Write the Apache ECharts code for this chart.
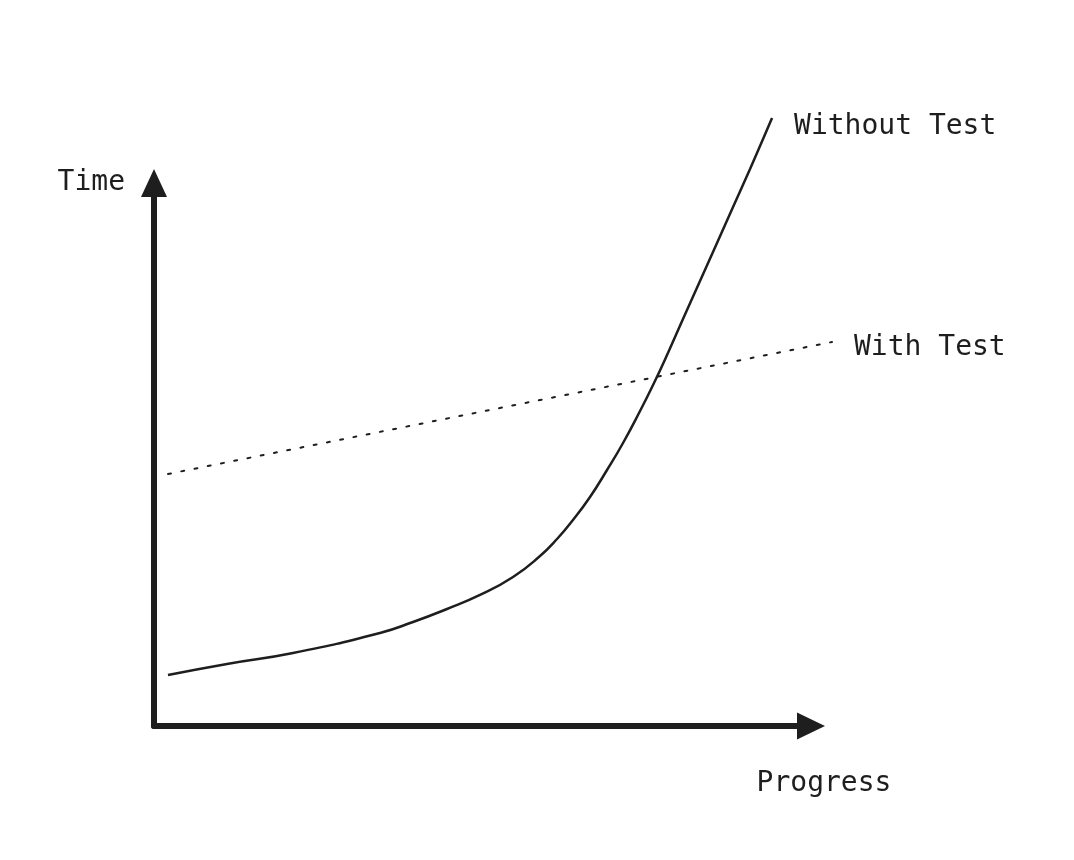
<!DOCTYPE html>
<html lang="en">
<head>
    <meta charset="UTF-8">
    <title>Time vs Progress</title>
    <script src="https://cdn.jsdelivr.net/npm/echarts@6/dist/echarts.min.js"></script>
    <style>
        html, body { margin: 0; padding: 0; background: #fff; }
        #chart { width: 1074px; height: 860px; }
    </style>
</head>
<body>
<div id="chart"></div>
<script>
    // values, progress / time in 0..100 units of the drawn axes
    var withoutTestX = [2.13, 11.12, 21.17, 34.41, 39.44, 44.62, 49.64, 54.67, 58.78, 61.37, 63.80, 66.39,
        68.98, 71.42, 74.01, 75.99, 78.12, 80.55, 83.14, 85.73, 88.17, 90.76, 92.74, 94.11];
    var withoutTestY = [9.39, 11.42, 13.44, 17.13, 19.15, 21.55, 24.13, 27.44, 31.31, 34.44, 37.94, 42.17,
        47.15, 52.12, 58.01, 62.80, 68.32, 74.95, 81.95, 88.95, 95.58, 102.58, 108.10, 111.97];
    var withTestX = [2.13, 103.24];
    var withTestY = [46.41, 70.72];
    var seriesNames = ['Without Test', 'With Test'];
    var axisNames = ['Progress', 'Time'];

    var ink = '#1e1e1e';
    var font = 'DejaVu Sans Mono';

    function pairs(xs, ys) {
        return xs.map(function (x, i) { return [x, ys[i]]; });
    }

    var hiddenAxis = {
        show: false, type: 'value', min: 0,
        splitLine: {show: false}
    };

    var chart = echarts.init(document.getElementById('chart'));
    chart.setOption({
        animation: false,
        grid: [
            // data grid: same scale, but wide enough for the dotted line's end
            {left: 154, top: 183, width: 683, height: 543},
            // drawn axes
            {left: 154, top: 183, width: 657, height: 543}
        ],
        xAxis: [
            Object.assign({}, hiddenAxis, {gridIndex: 0, max: 104}),
            {
                gridIndex: 1,
                type: 'value', min: 0, max: 100,
                name: axisNames[0],
                nameLocation: 'end',
                nameGap: 13,
                nameTextStyle: {
                    fontFamily: font, fontSize: 28, color: ink,
                    align: 'center', verticalAlign: 'top', padding: [44, 0, 0, 0]
                },
                axisLine: {
                    lineStyle: {color: ink, width: 6, cap: 'round'},
                    symbol: ['none', 'triangle'],
                    symbolSize: [27, 28]
                },
                axisTick: {show: false},
                axisLabel: {show: false},
                splitLine: {show: false}
            }
        ],
        yAxis: [
            Object.assign({}, hiddenAxis, {gridIndex: 0, max: 100}),
            {
                gridIndex: 1,
                type: 'value', min: 0, max: 100,
                name: axisNames[1],
                nameLocation: 'end',
                nameGap: 0,
                nameTextStyle: {
                    fontFamily: font, fontSize: 28, color: ink,
                    align: 'right', verticalAlign: 'middle', padding: [6, 29, 0, 0]
                },
                axisLine: {
                    lineStyle: {color: ink, width: 6, cap: 'round'},
                    symbol: ['none', 'triangle'],
                    symbolSize: [26, 28]
                },
                axisTick: {show: false},
                axisLabel: {show: false},
                splitLine: {show: false}
            }
        ],
        series: [
            {
                name: seriesNames[0],
                type: 'line',
                xAxisIndex: 0, yAxisIndex: 0,
                data: pairs(withoutTestX, withoutTestY),
                smooth: 0.5,
                showSymbol: false,
                clip: false,
                lineStyle: {color: ink, width: 2.5},
                endLabel: {
                    show: true, formatter: '{a}', distance: 22, offset: [0, 9],
                    fontFamily: font, fontSize: 28, color: ink
                }
            },
            {
                name: seriesNames[1],
                type: 'line',
                xAxisIndex: 0, yAxisIndex: 0,
                data: pairs(withTestX, withTestY),
                showSymbol: false,
                clip: false,
                lineStyle: {color: ink, width: 2, type: [3, 10.5], cap: 'round'},
                endLabel: {
                    show: true, formatter: '{a}', distance: 22, offset: [0, 6],
                    fontFamily: font, fontSize: 28, color: ink
                }
            }
        ]
    });
</script>
</body>
</html>
